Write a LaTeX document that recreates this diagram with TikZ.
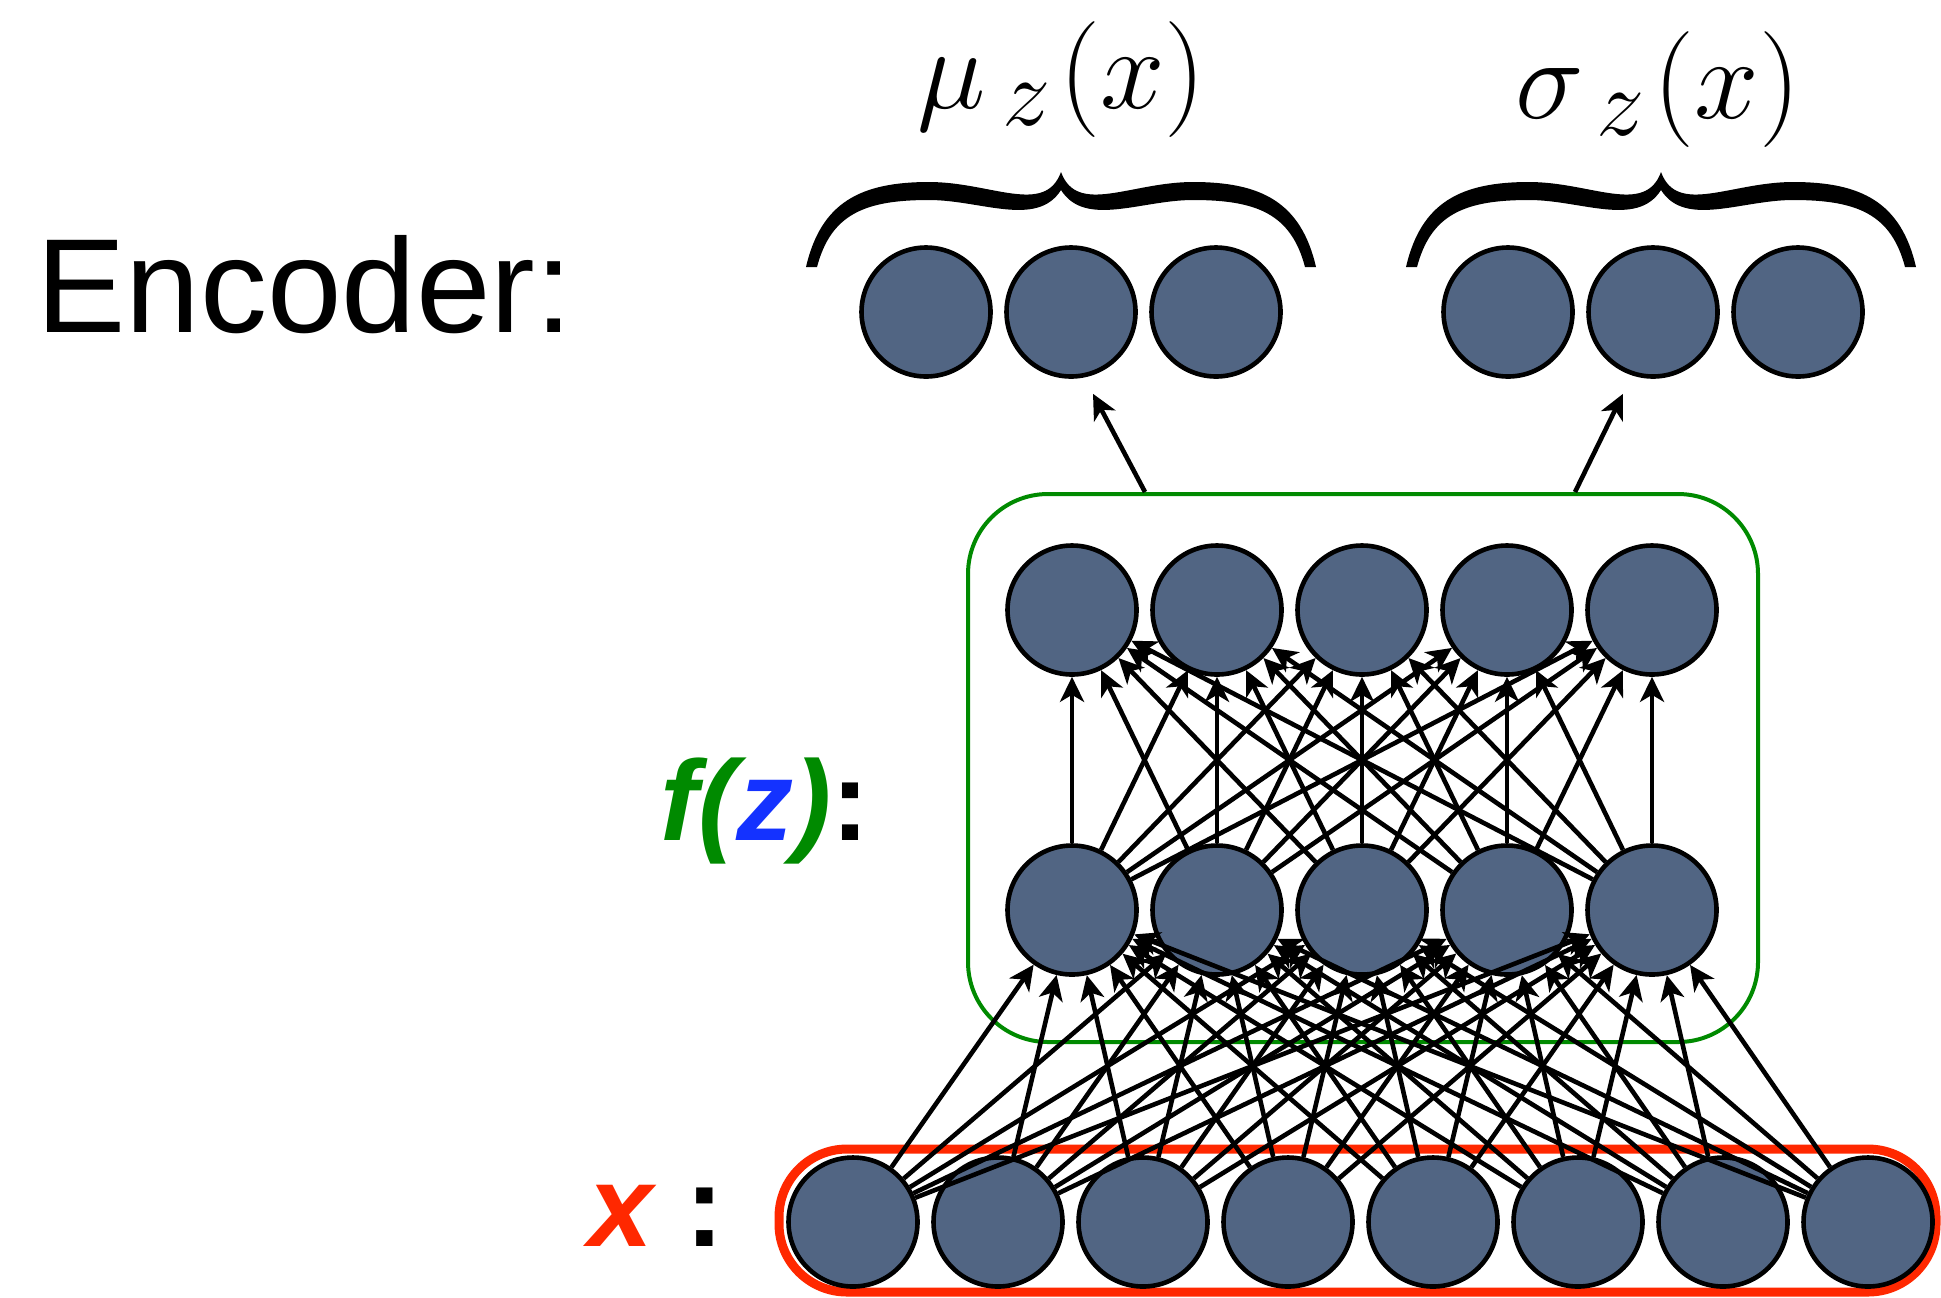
\documentclass[tikz,border=0pt]{standalone}
\usepackage{fontspec}
\newfontfamily\helv{Liberation Sans}
\usepackage{tikz}
\usetikzlibrary{arrows.meta, positioning, calc}

\definecolor{unitblue}{RGB}{81,101,131}
\definecolor{fgreen}{RGB}{0,138,0}
\definecolor{zblue}{RGB}{20,50,255}
\definecolor{xred}{RGB}{255,40,0}

\tikzset{
  pics/curly/.style={code={
    \fill (-127.5pt,-47.5pt) .. controls (-120pt,-15pt) and (-100pt,-5pt) .. (-66pt,-5pt)
      .. controls (-35pt,-5pt) and (-8pt,-22pt) .. (0pt,0pt)
      .. controls (8pt,-22pt) and (35pt,-5pt) .. (66pt,-5pt)
      .. controls (100pt,-5pt) and (120pt,-15pt) .. (127.5pt,-47.5pt)
      -- (122pt,-47.5pt)
      .. controls (115pt,-21pt) and (98pt,-14pt) .. (66pt,-14pt)
      .. controls (40pt,-14pt) and (12pt,-28pt) .. (0pt,-9pt)
      .. controls (-12pt,-28pt) and (-40pt,-14pt) .. (-66pt,-14pt)
      .. controls (-98pt,-14pt) and (-115pt,-21pt) .. (-122pt,-47.5pt) -- cycle;
  }}
}

\begin{document}
\begin{tikzpicture}[x=0.5pt, y=-0.5pt, node distance=72.5pt,
  unit/.style={circle,draw,line width=2.3pt,fill=unitblue,minimum size=64.5pt,inner sep=0pt},
  link/.style={-{Stealth[length=12.5pt,width=12pt,inset=3.5pt]},line width=2.3pt},
  lbl/.style={inner sep=0pt}]
\useasboundingbox (0,0) rectangle (1941,1297);

% boxes round the layers
\node[draw=fgreen,line width=2pt,rounded corners=40pt,minimum width=395pt,minimum height=274pt] (fbox) at (1363,768) {};
\node[draw=xred,line width=4.5pt,rounded corners=34pt,minimum width=578.5pt,minimum height=71.5pt] (xbox) at (1357.5,1220.5) {};

% input layer
\node[unit] (x1) at (853,1222) {};
\foreach \i [count=\j from 2] in {1,...,7}
  \node[unit, right of=x\i] (x\j) {};

% hidden layers
\node[unit] (h1) at (1072,910) {};
\node[unit] (g1) at (1072,610) {};
\foreach \i [count=\j from 2] in {1,...,4} {
  \node[unit, right of=h\i] (h\j) {};
  \node[unit, right of=g\i] (g\j) {};
}

% outputs
\node[unit] (mu1) at (926,312) {};
\node[unit, right of=mu1] (mu2) {};
\node[unit, right of=mu2] (mu3) {};
\node[unit] (sg1) at (1508,312) {};
\node[unit, right of=sg1] (sg2) {};
\node[unit, right of=sg2] (sg3) {};

\foreach \i in {1,...,8}
  \foreach \j in {1,...,5}
    \draw[link] (x\i) -- (h\j);
\foreach \i in {1,...,5}
  \foreach \j in {1,...,5}
    \draw[link] (h\i) -- (g\j);

\draw[link] ($(fbox.north)+(-109pt,0)$) -- ($(mu2.south)+(11pt,-7.5pt)$);
\draw[link] ($(fbox.north)+(106pt,0)$) -- ($(sg2.south)+(-15pt,-7.5pt)$);

\pic at ($(mu2)+(-5pt,70pt)$) {curly};
\pic at ($(sg2)+(4pt,70pt)$) {curly};

\node[lbl,anchor=base] (mulab) at (1062,108) {\scalebox{2.33}{\Huge$\mu_{\,z}\mkern1mu(x)$}};
\node[lbl,anchor=base] (sglab) at (1658,118) {\scalebox{2.33}{\Huge$\sigma_{\,z}\mkern1mu(x)$}};
\node[lbl,anchor=base west] (enc) at (36,332) {\helv\fontsize{67}{70}\selectfont Encoder:};
\node[lbl,anchor=base west] (flab) at (660,840) {\helv\bfseries\fontsize{57}{60}\selectfont\color{fgreen}\itshape f(\textcolor{zblue}{z})\upshape\color{black}:};
\node[lbl,anchor=base west] (xlab) at (588,1246) {\helv\bfseries\fontsize{58}{60}\selectfont\textcolor{xred}{\itshape x} :};
\end{tikzpicture}
\end{document}
